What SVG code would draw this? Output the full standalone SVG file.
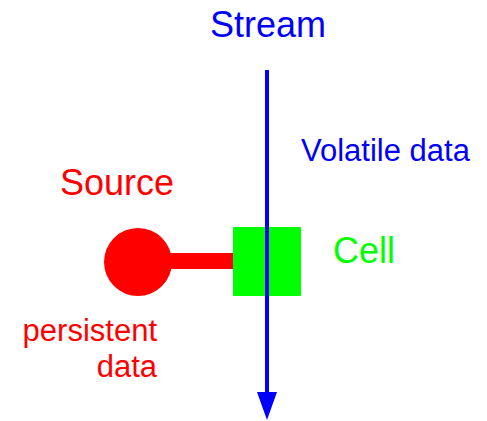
<svg xmlns="http://www.w3.org/2000/svg" width="487" height="421" viewBox="0 0 487 421">
  <style>
    text { font-family: "Liberation Sans", Arial, sans-serif; }
    .big { font-size: 36px; }
    .small { font-size: 31px; }
    .blue { fill: #0000ff; }
    .red { fill: #ff0000; }
    .green { fill: #00ff00; }
  </style>
  <defs>
    <!-- arrowhead whose base sits on the line end -->
    <marker id="arrow" markerUnits="userSpaceOnUse" markerWidth="28" markerHeight="20" refX="0" refY="10" orient="auto" viewBox="0 0 28 20">
      <path d="M0,0 L28,10 L0,20 Z" fill="#0000ff"/>
    </marker>
  </defs>

  <!-- source: sphere on a rod -->
  <g id="source">
    <rect x="170" y="253" width="65" height="16" fill="#ff0000"/>
    <circle cx="138" cy="262" r="34" fill="#ff0000"/>
    <text class="big red" x="60" y="195">Source</text>
    <text class="small red" x="157" y="341" text-anchor="end">persistent</text>
    <text class="small red" x="157" y="377" text-anchor="end">data</text>
  </g>

  <!-- cell -->
  <g id="cell">
    <rect x="233" y="227" width="68" height="69" rx="1" fill="#00ff00"/>
    <text class="big green" x="333" y="263">Cell</text>
  </g>

  <!-- stream connector -->
  <g id="connectors">
    <line x1="267" y1="70" x2="267" y2="392" stroke="#0000ff" stroke-width="4" marker-end="url(#arrow)"/>
  </g>

  <g id="stream">
    <text class="big blue" x="268" y="37" text-anchor="middle">Stream</text>
    <text class="small blue" x="301" y="161">Volatile data</text>
  </g>
</svg>
